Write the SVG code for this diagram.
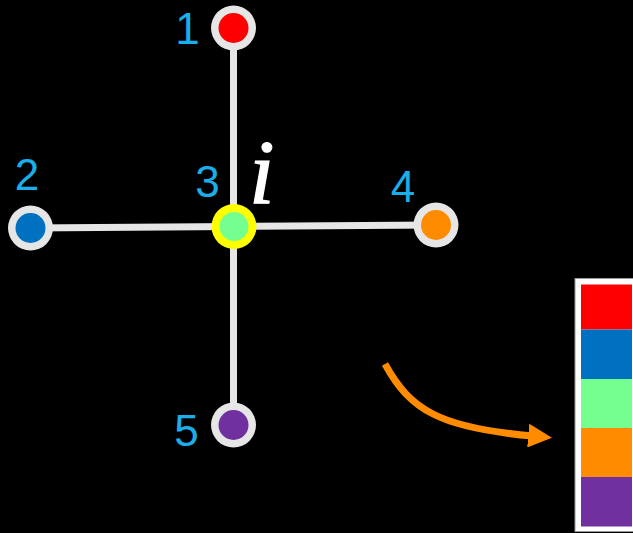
<svg xmlns="http://www.w3.org/2000/svg" width="633" height="533" viewBox="0 0 633 533">
<style>
.edge{stroke:#E6E6E6;stroke-width:7;fill:none}
.ring{fill:#E6E6E6}
.lbl{font-family:"Liberation Sans",Arial,sans-serif;font-size:44px;fill:#1AAEEA;text-anchor:middle}
</style>
<defs>
<marker id="ah" viewBox="0 0 10 10" refX="2" refY="5" markerWidth="3.4" markerHeight="3.4" orient="auto" markerUnits="strokeWidth">
<path d="M0,0 L10,5 L0,10 Z" fill="#FF8C00"/>
</marker>
</defs>
<rect x="0" y="0" width="633" height="533" fill="#000"/>
<g id="connectors">
<line class="edge" x1="233.5" y1="28" x2="233.5" y2="425"/>
<line class="edge" x1="30.5" y1="228" x2="234" y2="226.5"/>
<line class="edge" x1="234" y1="226.5" x2="436" y2="225"/>
<path d="M385,364 C410,410 440,428 533,436" fill="none" stroke="#FF8C00" stroke-width="7" marker-end="url(#ah)"/>
</g>
<g id="node1">
<circle class="ring" cx="233.5" cy="28" r="22.5"/>
<circle cx="233.5" cy="28" r="15" fill="#FF0000"/>
<text class="lbl" x="187.5" y="44">1</text>
</g>
<g id="node2">
<circle class="ring" cx="30.5" cy="228" r="22.5"/>
<circle cx="30.5" cy="228" r="15" fill="#0070C0"/>
<text class="lbl" x="27" y="190">2</text>
</g>
<g id="node3">
<circle cx="234" cy="226.5" r="22.5" fill="#FFFF00"/>
<circle cx="234" cy="226.5" r="14.5" fill="#75FF8F"/>
<text class="lbl" x="207.5" y="197">3</text>
<text x="249" y="203" font-family="'Liberation Serif','Times New Roman',serif" font-style="italic" font-size="92" stroke="#FFFFFF" stroke-width="1.2" fill="#FFFFFF">i</text>
</g>
<g id="node4">
<circle class="ring" cx="436" cy="225" r="22.5"/>
<circle cx="436" cy="225" r="15" fill="#FF8C00"/>
<text class="lbl" x="403" y="202">4</text>
</g>
<g id="node5">
<circle class="ring" cx="233.5" cy="425" r="22.5"/>
<circle cx="233.5" cy="425" r="15" fill="#7030A0"/>
<text class="lbl" x="186.5" y="446">5</text>
</g>
<g id="legend">
<rect x="575" y="278.5" width="62" height="253" fill="#FFFFFF" stroke="#999" stroke-width="1"/>
<rect x="581" y="284.5" width="51" height="45" fill="#FF0000"/>
<rect x="581" y="329.5" width="51" height="49.5" fill="#0070C0"/>
<rect x="581" y="379" width="51" height="49" fill="#75FF8F"/>
<rect x="581" y="428" width="51" height="49" fill="#FF8C00"/>
<rect x="581" y="477" width="51" height="49.5" fill="#7030A0"/>
</g>
</svg>
